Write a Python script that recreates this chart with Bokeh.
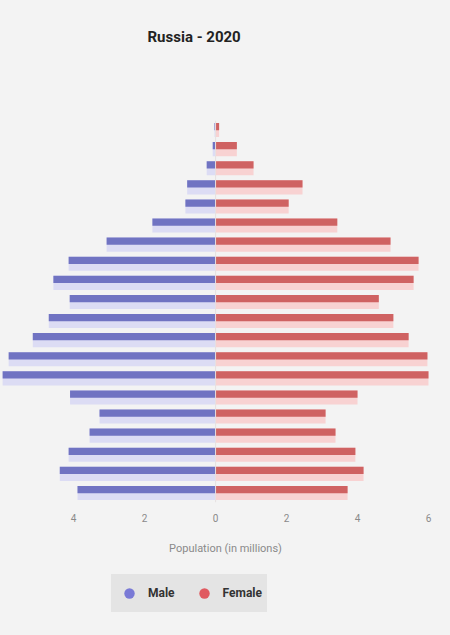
from bokeh.plotting import figure
from bokeh.layouts import column
from bokeh.models import (ColumnDataSource, FactorRange, Range1d, FixedTicker,
                          CustomJSTickFormatter, Legend, LegendItem, Span, Label)
from bokeh.transform import dodge
from bokeh.embed import file_html
from bokeh.resources import INLINE

# ---- data (millions) ----
age_groups = ["0-4", "5-9", "10-14", "15-19", "20-24", "25-29", "30-34", "35-39",
              "40-44", "45-49", "50-54", "55-59", "60-64", "65-69", "70-74",
              "75-79", "80-84", "85-89", "90-94", "95-99"]
male = [3.89, 4.39, 4.14, 3.55, 3.27, 4.10, 6.00, 5.83, 5.15, 4.70,
        4.11, 4.57, 4.14, 3.07, 1.78, 0.85, 0.80, 0.25, 0.08, 0.03]
female = [3.72, 4.17, 3.94, 3.38, 3.10, 4.00, 6.00, 5.97, 5.44, 5.01,
          4.60, 5.58, 5.72, 4.93, 3.43, 2.06, 2.45, 1.07, 0.60, 0.10]
tick_values = [-4, -2, 0, 2, 4, 6]
title_text = "Russia - 2020"
x_label = "Population (in millions)"
series_names = ["Male", "Female"]

src = ColumnDataSource(dict(age=age_groups, male=[-m for m in male], female=female))

BG = "#f3f3f3"


def bare(fig):
    fig.background_fill_color = BG
    fig.border_fill_color = BG
    fig.outline_line_color = None
    fig.grid.grid_line_color = None


# ---- title strip ----
h = figure(width=450, height=120, output_backend="svg", toolbar_location=None,
           min_border=0, x_range=Range1d(0, 1), y_range=Range1d(0, 1))
bare(h)
h.axis.visible = False
h.add_layout(Label(x=147, y=84, x_units="screen", y_units="screen", text=title_text,
                   text_font="Roboto", text_font_size="15px", text_font_style="bold",
                   text_color="#222222", text_baseline="middle", text_align="left"))

# ---- main pyramid ----
p = figure(width=450, height=440, y_range=FactorRange(*age_groups),
           x_range=Range1d(-6.06, 6.62), output_backend="svg",
           toolbar_location=None, min_border_left=0, min_border_right=0,
           min_border_top=0, min_border_bottom=58)
bare(p)
p.yaxis.visible = False

# pale full bars
p.hbar(y="age", right="male", left=0, height=0.74, source=src,
       fill_color="#dcdcf4", line_color=None)
p.hbar(y="age", right="female", left=0, height=0.74, source=src,
       fill_color="#f8d2d2", line_color=None)
# darker upper bands
p.hbar(y=dodge("age", 0.18, range=p.y_range), right="male", left=0, height=0.38,
       source=src, fill_color="#7073c2", line_color=None)
p.hbar(y=dodge("age", 0.18, range=p.y_range), right="female", left=0, height=0.38,
       source=src, fill_color="#cf6262", line_color=None)

p.add_layout(Span(location=0, dimension="height", line_color="#e6e0e0", line_width=1))

ax = p.xaxis[0]
ax.ticker = FixedTicker(ticks=tick_values)
ax.formatter = CustomJSTickFormatter(code="return Math.abs(tick).toString();")
ax.axis_line_color = None
ax.major_tick_line_color = None
ax.minor_tick_line_color = None
ax.major_tick_out = 0
ax.major_label_standoff = 11
ax.major_label_text_color = "#8a8a8a"
ax.major_label_text_font = "Roboto"
ax.major_label_text_font_size = "10px"
ax.axis_label = x_label
ax.axis_label_text_font = "Roboto"
ax.axis_label_text_font_style = "normal"
ax.axis_label_text_font_size = "11px"
ax.axis_label_text_color = "#8a8a8a"
ax.axis_label_standoff = 17

# ---- legend strip ----
q = figure(width=450, height=75, output_backend="svg", toolbar_location=None,
           min_border=0, x_range=Range1d(0, 1), y_range=Range1d(0, 1))
bare(q)
q.axis.visible = False

r_m = q.scatter(x=[5], y=[5], marker="circle", size=12, fill_color="#7a7ad6", line_color=None)
r_f = q.scatter(x=[5], y=[5], marker="circle", size=12, fill_color="#e05a60", line_color=None)
legend = Legend(items=[LegendItem(label=series_names[0], renderers=[r_m]),
                       LegendItem(label=series_names[1], renderers=[r_f])],
                orientation="horizontal", location=(111, 23))
legend.background_fill_color = "#e4e4e4"
legend.background_fill_alpha = 1.0
legend.border_line_color = "#e4e4e4"
legend.border_line_width = 1
legend.label_text_font = "Roboto"
legend.label_text_font_style = "bold"
legend.label_text_font_size = "12px"
legend.label_text_color = "#333333"
legend.glyph_width = 26
legend.glyph_height = 28
legend.label_standoff = 6
legend.spacing = 16
legend.padding = 4
legend.margin = 0
q.add_layout(legend, "center")

layout = column(h, p, q, spacing=0, styles={"background-color": BG})
open("out.html", "w").write(file_html(layout, INLINE))
